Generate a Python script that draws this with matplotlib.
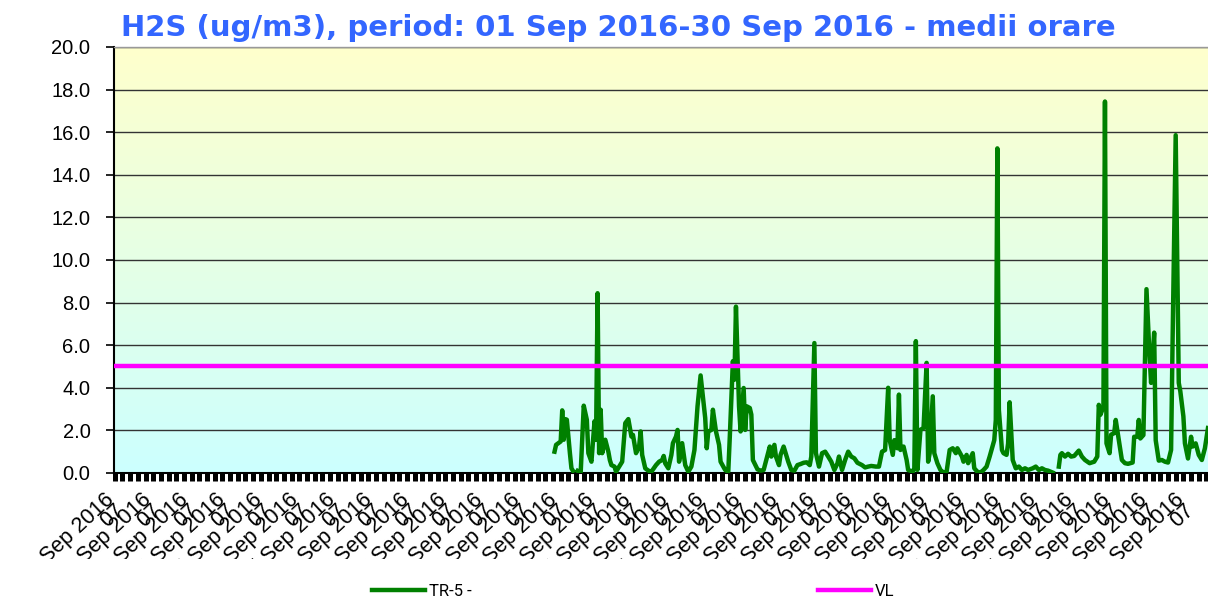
import numpy as np
import matplotlib
matplotlib.use("Agg")
import matplotlib.pyplot as plt
from matplotlib.lines import Line2D
from matplotlib.transforms import Bbox, TransformedBbox, ScaledTranslation

# hourly values for September 2016 (hour index 0 = 01 Sep 01:00), vertices
hours = [286, 287, 290, 291, 292, 293, 294, 296, 297, 298, 299, 300, 301, 302, 303, 305, 307, 308,
         310, 312, 313, 314, 315, 316, 317, 319, 321, 322, 323, 325, 326, 328, 330, 332, 334, 336,
         337, 339, 341, 342, 343, 345, 347, 349, 352, 354, 356, 357, 358, 360, 362, 363, 365, 366,
         367, 369, 371, 373, 375, 377, 379, 381, 382, 384, 385, 386, 388, 389, 391, 393, 394, 397,
         399, 400, 402, 403, 404, 406, 407, 409, 410, 411, 413, 414, 415, 418, 420, 422, 424, 426,
         427, 429, 430, 432, 433, 435, 437, 438, 440, 442, 444, 446, 448, 450, 452, 453, 455, 456,
         458, 460, 462, 464, 466, 468, 470, 471, 473, 475, 477, 479, 481, 483, 486, 488, 490, 492,
         495, 497, 499, 501, 503, 504, 506, 507, 509, 510, 511, 513, 515, 516, 519, 520, 521, 522,
         524, 526, 528, 529, 530, 532, 533, 535, 537, 539, 541, 543, 545, 547, 548, 551, 552, 554,
         555, 558, 559, 561, 563, 565, 567, 569, 572, 573, 574, 575, 577, 578, 580, 581, 582, 584,
         586, 588, 590, 592, 594, 597, 599, 601, 603, 605, 607, 610, 611, 612, 613, 614, 615, 616,
         618, 620, 622, 624, 627, 629, 631, 634, 637, 639, 640, 641, 643, 644, 645, 647, 648, 650,
         651, 653, 655, 657, 659, 662, 663, 665, 666, 667, 669, 671, 673, 674, 676, 677, 679, 681,
         683, 685, 687, 688, 690, 692, 693, 695, 696, 698, 700, 701, 703, 705, 707, 709, 711]
tr5 = [1.00, 1.32, 1.48, 2.94, 1.56, 2.53, 2.50, 0.93, 0.22, 0.10, np.nan, np.nan, 0.10, 0.06, 0.00,
       3.16, 2.50, 0.93, 0.53, 2.43, 1.56, 8.44, 0.93, 2.97, 0.93, 1.56, 1.00, 0.60, 0.37, 0.30,
       0.06, 0.30, 0.53, 2.34, 2.53, 1.71, 1.79, 0.93, 1.24, 1.95, 0.85, 0.22, 0.11, 0.06, 0.37,
       0.53, 0.61, 0.80, 0.45, 0.22, 0.85, 1.40, 1.71, 2.02, 0.53, 1.40, 0.37, 0.06, 0.30, 1.08,
       3.13, 4.58, 3.92, 2.58, 1.16, 1.95, 2.02, 2.97, 1.95, 1.32, 0.53, 0.14, 0.06, 1.71, 5.25,
       4.38, 7.81, 3.13, 1.95, 3.99, 2.02, 3.13, 3.05, 2.74, 0.61, 0.17, 0.11, 0.14, 0.69, 1.24,
       0.77, 1.32, 0.77, 0.37, 0.85, 1.24, 0.77, 0.53, 0.14, 0.11, 0.37, 0.42, 0.48, 0.50, 0.37,
       0.77, 6.10, 0.93, 0.30, 0.93, 1.00, 0.77, 0.53, 0.14, 0.45, 0.77, 0.14, 0.61, 1.00, 0.77,
       0.69, 0.48, 0.37, 0.26, 0.30, 0.33, 0.30, 0.30, 1.00, 1.08, 4.00, 1.54, 0.85, 1.54, 1.16,
       3.68, 1.08, 1.24, 0.61, 0.14, 0.06, 0.22, 6.19, 0.14, 2.03, 2.11, 5.17, 0.53, 0.93, 3.60,
       0.93, 0.46, 0.14, 0.02, 0.06, 1.08, 1.16, 0.93, 1.16, 0.77, 0.53, 0.85, 0.46, 0.93, 0.22,
       0.06, 0.02, 0.14, 0.30, 0.77, 1.54, 2.49, 15.24, 2.96, 1.08, 0.93, 0.85, 1.38, 3.32, 0.61,
       0.22, 0.30, 0.14, 0.22, 0.14, 0.22, 0.30, 0.14, 0.22, 0.14, 0.11, 0.02, np.nan, np.nan,
       np.nan, 0.30, 0.85, 0.93, 0.77, 0.90, 0.77, 0.80, 1.05, 0.77, 0.61, 0.46, 0.53, 0.77, 3.20,
       2.73, 3.10, 17.44, 1.39, 0.93, 1.80, 1.87, 2.49, 1.54, 0.61, 0.46, 0.43, 0.49, 1.70, 1.70,
       2.49, 1.62, 1.78, 8.63, 5.49, 4.23, 6.59, 1.54, 0.58, 0.61, 0.53, 0.49, 1.08, 6.28, 15.86,
       4.23, 3.84, 2.66, 1.39, 0.68, 1.70, 1.24, 1.39, 0.85, 0.61, 1.16, 2.11]
vl = 5.0
n_hours = 720
days = list(range(1, 31))
day_labels = [f"{d:02d} Sep 2016\n07" for d in days]
title = "H2S (ug/m3), period: 01 Sep 2016-30 Sep 2016 - medii orare"

fig = plt.figure(figsize=(12.08, 6.0), dpi=100)
ax = fig.add_axes([0.0944, 0.2117, 0.9164, 0.71])

# yellow -> cyan background
grad = np.linspace(0, 1, 256).reshape(-1, 1)
top = np.array([1.0, 1.0, 0.80])
bot = np.array([0.80, 1.0, 1.0])
img = top * (1 - grad)[..., None] + bot * grad[..., None]
ax.imshow(img, extent=[0, 1, 0, 1], transform=ax.transAxes, aspect="auto", zorder=0)

ax.set_xlim(-0.5, n_hours - 0.5)
ax.set_ylim(0, 20)
ax.set_yticks(np.arange(0, 20.1, 2))
ax.set_yticklabels([f"{v:.1f}" for v in np.arange(0, 20.1, 2)])
ax.grid(axis="y", color="#333333", linewidth=1.0, zorder=1)
ax.set_axisbelow(True)

ax.plot(hours, tr5, color="#008000", linewidth=3.2, solid_joinstyle="round", zorder=3)
ax.axhline(vl, color="#ff00ff", linewidth=3.2, zorder=4)

ax.spines["right"].set_visible(False)
ax.spines["left"].set_linewidth(1.5)
ax.spines["bottom"].set_linewidth(1.5)
ax.spines["top"].set_linewidth(1.0)
ax.spines["top"].set_color("#999999")

ax.tick_params(axis="y", length=6, width=1.2, pad=11, labelsize=14.5,
               labelfontfamily="Liberation Sans")
ax.xaxis.remove_overlapping_locs = False
ax.set_xticks([24 * (d - 1) + 6 for d in days])
ax.set_xticklabels(day_labels, rotation=43, ha="right", va="top",
                   rotation_mode="anchor", fontsize=15.5, family="Liberation Sans",
                   linespacing=0.6)
ax.set_xticks(np.arange(0, n_hours, 5), minor=True)
ax.tick_params(axis="x", which="minor", length=6, width=3.6, color="black")
ax.tick_params(axis="x", which="major", length=0, pad=12)

# labels sit a little left of their day and are cut off at the bottom
clip = TransformedBbox(Bbox([[0, 0.068], [1, 1]]), fig.transFigure)
shift = ScaledTranslation(-20 / 100, 0, fig.dpi_scale_trans)
for lab in ax.get_xticklabels():
    lab.set_transform(lab.get_transform() + shift)
    lab.set_clip_box(clip)
    lab.set_clip_on(True)

fig.text(0.1, 0.953, title, color="#3366ff", fontsize=21, fontweight="bold",
         family="DejaVu Sans", ha="left", va="center")

handles = [Line2D([], [], color="#008000", linewidth=3.2),
           Line2D([], [], color="#ff00ff", linewidth=3.2)]
fig.legend(handles, ["TR-5 -", "VL"], loc="center", bbox_to_anchor=(0.524, 0.015),
           ncol=2, frameon=False, prop={"family": "Roboto", "size": 12},
           handlelength=3.2, handletextpad=0.2, columnspacing=20.8)

fig.savefig("out.png", dpi=100)
